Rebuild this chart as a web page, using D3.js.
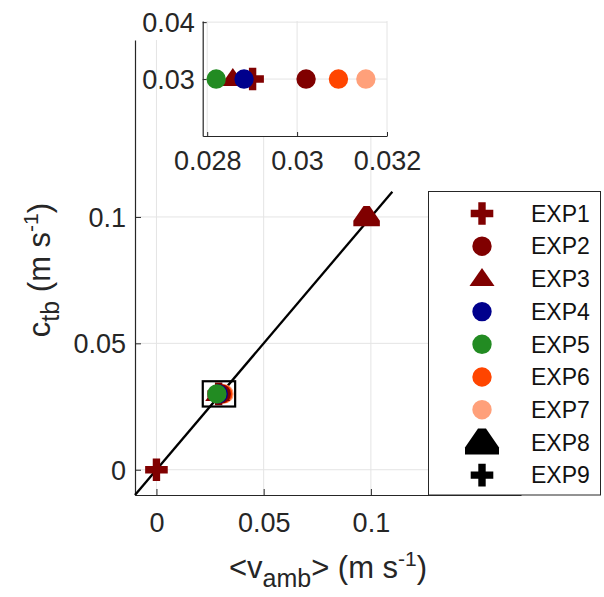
<!DOCTYPE html>
<html lang="en">
<head>
<meta charset="UTF-8">
<title>ctb vs vamb</title>
<script src="https://cdn.jsdelivr.net/npm/d3@7"></script>
<style>
    body { margin: 0; background: #fff; }
    svg { font-family: "Liberation Sans", Arial, Helvetica, sans-serif; }
    .grid line { stroke: #e4e4e4; stroke-width: 1; }
    .axis path, .axis line { stroke: #262626; }
    .axis text { fill: #262626; }
</style>
</head>
<body>
<svg width="604" height="597"></svg>
<script>
    // experiments / legend
    var expNames = ["EXP1", "EXP2", "EXP3", "EXP4", "EXP5", "EXP6", "EXP7", "EXP8", "EXP9"];
    var expColors = ["#800000", "#800000", "#800000", "#00008c", "#228b22", "#ff4500", "#ffa07a", "#000000", "#000000"];
    var expSymbols = ["cross", "circle", "triangle", "circle", "circle", "circle", "circle", "house", "cross"];

    // points near 0.03, in drawing order
    var groupExp = ["EXP7", "EXP6", "EXP2", "EXP1", "EXP3", "EXP4", "EXP5"];
    var groupV = [0.03153, 0.03092, 0.0302, 0.02901, 0.02857, 0.02882, 0.0282];
    var groupC = [0.03, 0.03, 0.03, 0.03, 0.03, 0.03, 0.03];

    // other points
    var otherExp = ["EXP1", "EXP3"];
    var otherSymbol = ["cross", "house"];
    var otherV = [0, 0.098];
    var otherC = [0, 0.1];

    // 1:1 line
    var lineV = [-0.01, 0.11];
    var lineC = [-0.01, 0.11];

    // zoom box drawn on main axes
    var boxV = [0.0216, 0.0367];
    var boxC = [0.025, 0.035];

    var mainTicks = [0, 0.05, 0.1];
    var insetXTicks = [0.028, 0.03, 0.032];
    var insetYTicks = [0.03, 0.04];

    var svg = d3.select("svg");
    var txt = "#262626";

    function colorOf(e) { return expColors[expNames.indexOf(e)]; }
    function symbolOf(e) { return expSymbols[expNames.indexOf(e)]; }

    // marker paths, k = scale
    function markerPath(type, k) {
        k = k || 1;
        if (type === "circle") {
            var r = 9.7 * k;
            return "M" + (-r) + ",0A" + r + "," + r + " 0 1,0 " + r + ",0A" + r + "," + r + " 0 1,0 " + (-r) + ",0Z";
        }
        if (type === "cross") {
            var a = 11.3 * k, t = 3.7 * k;
            return "M" + (-t) + "," + (-a) + "H" + t + "V" + (-t) + "H" + a + "V" + t + "H" + t + "V" + a +
                "H" + (-t) + "V" + t + "H" + (-a) + "V" + (-t) + "H" + (-t) + "Z";
        }
        if (type === "triangle") {
            return "M0," + (-11 * k) + "L" + (12.5 * k) + "," + (7 * k) + "L" + (-12.5 * k) + "," + (7 * k) + "Z";
        }
        // house-like shape
        return "M" + (-4 * k) + "," + (-14 * k) + "H" + (4 * k) + "L" + (17 * k) + "," + (5 * k) + "V" + (12 * k) +
            "H" + (-17 * k) + "V" + (5 * k) + "Z";
    }

    // ---------- main axes ----------
    var x = d3.scaleLinear().domain([-0.01, 0.17]).range([135, 521]);
    var y = d3.scaleLinear().domain([-0.01, 0.17]).range([495, 40]);

    var grid = svg.append("g").attr("class", "grid");
    grid.selectAll("line.gx").data(mainTicks).enter().append("line")
        .attr("x1", function (d) { return x(d); }).attr("x2", function (d) { return x(d); })
        .attr("y1", y.range()[0]).attr("y2", y.range()[1]);
    grid.selectAll("line.gy").data(mainTicks).enter().append("line")
        .attr("y1", function (d) { return y(d); }).attr("y2", function (d) { return y(d); })
        .attr("x1", x.range()[0]).attr("x2", x.range()[1]);

    var xAxis = svg.append("g").attr("class", "axis")
        .attr("transform", "translate(0," + y.range()[0] + ")")
        .call(d3.axisBottom(x).tickValues(mainTicks).tickSizeInner(-6).tickSizeOuter(0)
            .tickFormat(function (d) { return d === 0 ? "0" : d3.format("")(d); }));
    xAxis.selectAll("text").attr("font-size", 27).attr("dy", 0).attr("y", 37);
    xAxis.select(".domain").attr("stroke-width", 1.2);

    var yAxis = svg.append("g").attr("class", "axis")
        .attr("transform", "translate(" + x.range()[0] + ",0)")
        .call(d3.axisLeft(y).tickValues(mainTicks).tickSizeInner(-6).tickSizeOuter(0)
            .tickFormat(function (d) { return d === 0 ? "0" : d3.format("")(d); }));
    yAxis.selectAll("text").attr("font-size", 27).attr("x", -9).attr("dy", "0.35em");
    yAxis.select(".domain").attr("stroke-width", 1.2);
    svg.selectAll(".axis text").attr("font-family", "'Liberation Sans', Arial, sans-serif");

    // 1:1 line
    svg.append("path")
        .datum(d3.zip(lineV, lineC))
        .attr("fill", "none").attr("stroke", "#000").attr("stroke-width", 2.3)
        .attr("d", d3.line().x(function (d) { return x(d[0]); }).y(function (d) { return y(d[1]); }));

    // points
    var mainPts = svg.append("g");
    otherExp.forEach(function (e, i) {
        mainPts.append("path")
            .attr("transform", "translate(" + x(otherV[i]) + "," + y(otherC[i]) + ")")
            .attr("d", markerPath(otherSymbol[i], otherSymbol[i] === "house" ? 0.78 : 1))
            .attr("fill", colorOf(e));
    });
    groupExp.forEach(function (e, i) {
        mainPts.append("path")
            .attr("transform", "translate(" + x(groupV[i]) + "," + y(groupC[i]) + ")")
            .attr("d", markerPath(symbolOf(e), 1))
            .attr("fill", colorOf(e));
    });

    // zoom box
    svg.append("rect")
        .attr("x", x(boxV[0])).attr("y", y(boxC[1]))
        .attr("width", x(boxV[1]) - x(boxV[0])).attr("height", y(boxC[0]) - y(boxC[1]))
        .attr("fill", "none").attr("stroke", "#000").attr("stroke-width", 2.2);

    // axis labels
    var xl = svg.append("text").attr("x", 328).attr("y", 578).attr("text-anchor", "middle")
        .attr("font-size", 31).attr("fill", txt);
    xl.append("tspan").text("<v");
    xl.append("tspan").attr("baseline-shift", "-0.35em").attr("font-size", 25).text("amb");
    xl.append("tspan").text("> (m s");
    xl.append("tspan").attr("baseline-shift", "0.55em").attr("font-size", 21).text("-1");
    xl.append("tspan").text(")");

    var yl = svg.append("text").attr("transform", "translate(50,270) rotate(-90)")
        .attr("text-anchor", "middle").attr("font-size", 31).attr("fill", txt);
    yl.append("tspan").text("c");
    yl.append("tspan").attr("baseline-shift", "-0.35em").attr("font-size", 25).text("tb");
    yl.append("tspan").text(" (m s");
    yl.append("tspan").attr("baseline-shift", "0.55em").attr("font-size", 21).text("-1");
    yl.append("tspan").text(")");

    // ---------- inset ----------
    var ix = d3.scaleLinear().domain([0.0279, 0.032]).range([202.7, 387]);
    var iy = d3.scaleLinear().domain([0.02, 0.0402]).range([136, 21]);

    var inset = svg.append("g");
    inset.append("rect")
        .attr("x", ix.range()[0]).attr("y", iy.range()[1])
        .attr("width", ix.range()[1] - ix.range()[0]).attr("height", iy.range()[0] - iy.range()[1])
        .attr("fill", "#fff");
    var igrid = inset.append("g").attr("class", "grid");
    igrid.selectAll("line.gx").data(insetXTicks).enter().append("line")
        .attr("x1", function (d) { return ix(d); }).attr("x2", function (d) { return ix(d); })
        .attr("y1", iy.range()[0]).attr("y2", iy.range()[1]);
    igrid.selectAll("line.gy").data(insetYTicks).enter().append("line")
        .attr("y1", function (d) { return iy(d); }).attr("y2", function (d) { return iy(d); })
        .attr("x1", ix.range()[0]).attr("x2", ix.range()[1]);

    var ixAxis = inset.append("g").attr("class", "axis")
        .attr("transform", "translate(0," + iy.range()[0] + ")")
        .call(d3.axisBottom(ix).tickValues(insetXTicks).tickSizeInner(-4).tickSizeOuter(0)
            .tickFormat(d3.format("")));
    ixAxis.selectAll("text").attr("font-size", 27).attr("dy", 0).attr("y", 34);
    ixAxis.select(".domain").attr("stroke-width", 1.2);

    var iyAxis = inset.append("g").attr("class", "axis")
        .attr("transform", "translate(" + ix.range()[0] + ",0)")
        .call(d3.axisLeft(iy).tickValues(insetYTicks).tickSizeInner(-4).tickSizeOuter(0)
            .tickFormat(d3.format("")));
    iyAxis.selectAll("text").attr("font-size", 27).attr("x", -8).attr("dy", "0.35em");
    iyAxis.select(".domain").attr("stroke-width", 1.2);
    inset.selectAll(".axis text").attr("font-family", "'Liberation Sans', Arial, sans-serif");

    groupExp.forEach(function (e, i) {
        inset.append("path")
            .attr("transform", "translate(" + ix(groupV[i]) + "," + iy(groupC[i]) + ")")
            .attr("d", markerPath(symbolOf(e), 1))
            .attr("fill", colorOf(e));
    });

    // ---------- legend ----------
    var legend = svg.append("g");
    legend.append("rect")
        .attr("x", 428.5).attr("y", 191.5).attr("width", 172).attr("height", 303.5)
        .attr("fill", "#fff").attr("stroke", "#262626").attr("stroke-width", 1);
    var items = legend.selectAll("g.item").data(expNames).enter().append("g")
        .attr("transform", function (d, i) { return "translate(0," + (213.5 + i * 32.7) + ")"; });
    items.append("path")
        .attr("transform", "translate(482,0)")
        .attr("d", function (d, i) { return markerPath(expSymbols[i], 1); })
        .attr("fill", function (d, i) { return expColors[i]; });
    items.append("text")
        .attr("x", 531).attr("dy", "0.36em")
        .attr("font-size", 23).attr("fill", "#111")
        .text(function (d) { return d; });
</script>
</body>
</html>
